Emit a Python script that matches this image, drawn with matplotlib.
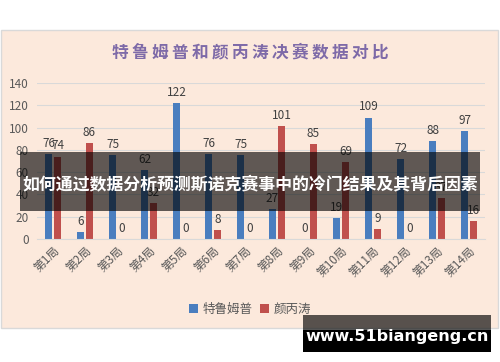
import matplotlib
matplotlib.use("Agg")
import matplotlib.pyplot as plt
import numpy as np
from matplotlib.patches import Rectangle

plt.rcParams["font.family"] = ["Noto Sans CJK SC", "DejaVu Sans"]

rounds = [f"第{i}局" for i in range(1, 15)]
trump = [76, 6, 75, 62, 122, 76, 75, 27, 0, 19, 109, 72, 88, 97]
yan = [74, 86, 0, 32, 0, 8, 0, 101, 85, 69, 9, 0, 37, 16]
series_names = ["特鲁姆普", "颜丙涛"]
title = "特鲁姆普和颜丙涛决赛数据对比"
banner = "如何通过数据分析预测斯诺克赛事中的冷门结果及其背后因素"
watermark = "www.51biangeng.cn"

W, H = 500, 362
BLUE = "#4a7ebf"
RED = "#c0504d"
PANEL = "#fce9dc"
GRAY = "#595959"


def px_rect(x0, y0, x1, y1):
    """Figure-fraction rectangle from pixel corners (top-left origin)."""
    return (x0 / W, 1 - y1 / H, (x1 - x0) / W, (y1 - y0) / H)


fig = plt.figure(figsize=(W / 100, H / 100), dpi=100)
fig.patch.set_facecolor("white")

# chart panel
x, y, w, h = px_rect(1, 30, 498, 328)
fig.add_artist(Rectangle((x, y), w, h, transform=fig.transFigure,
                         facecolor=PANEL, edgecolor="#d9d9d9", lw=1, zorder=0))

# title is spaced out in the original, so put thin gaps between characters
fig.text(0.5, 1 - 52 / H, "\u2009".join(title), ha="center", va="center",
         fontsize=12, color="#7e6aa8", fontweight="bold",
         family=["Noto Sans CJK SC", "DejaVu Sans"])

ax = fig.add_axes(px_rect(37, 83, 485, 239))
ax.set_facecolor("none")
idx = np.arange(len(rounds))
bw = 0.22
b1 = ax.bar(idx - 0.14, trump, bw, color=BLUE, label=series_names[0], zorder=2)
b2 = ax.bar(idx + 0.14, yan, bw, color=RED, label=series_names[1], zorder=2)
for bars in (b1, b2):
    ax.bar_label(bars, padding=3, fontsize=8.5, color="#404040")

ax.set_ylim(0, 140)
ax.set_xlim(-0.5, len(rounds) - 0.5)
ax.set_yticks(range(0, 141, 20))
ax.yaxis.grid(True, color="#d9d9d9", lw=0.8, zorder=0)
ax.set_axisbelow(True)
for side in ("top", "right", "left"):
    ax.spines[side].set_visible(False)
ax.spines["bottom"].set_color("#d9d9d9")
ax.tick_params(axis="both", length=0, colors=GRAY, labelsize=8.5)
ax.tick_params(axis="y", pad=6)
ax.set_xticks(idx)
ax.set_xticklabels(rounds, rotation=45, ha="right", rotation_mode="anchor")

fig.legend(handles=[b1, b2], loc="center", bbox_to_anchor=(0.5, 1 - 309 / H),
           ncol=2, frameon=False, fontsize=9, labelcolor=GRAY,
           handlelength=0.7, handleheight=0.7, handletextpad=0.4,
           columnspacing=0.6)

# overlay banner
x, y, w, h = px_rect(20, 152, 480, 211)
fig.add_artist(Rectangle((x, y), w, h, transform=fig.transFigure,
                         facecolor="black", alpha=0.62, lw=0, zorder=10))
fig.text(0.5, 1 - 184 / H, banner, ha="center", va="center", fontsize=12.2,
         fontweight="bold", color="white", zorder=11)

# watermark
x, y, w, h = px_rect(303, 315, 491, 352)
fig.add_artist(Rectangle((x, y), w, h, transform=fig.transFigure,
                         facecolor="black", alpha=0.65, lw=0, zorder=10))
x, y, w, h = px_rect(303, 330, 491, 352)
fig.add_artist(Rectangle((x, y), w, h, transform=fig.transFigure,
                         facecolor="black", lw=0, zorder=10))
fig.text(397 / W, 1 - 337 / H, watermark, ha="center", va="center",
         fontsize=11.5, fontweight="bold", color="white", zorder=11,
         family="DejaVu Sans")

fig.savefig("out.png", dpi=100)
